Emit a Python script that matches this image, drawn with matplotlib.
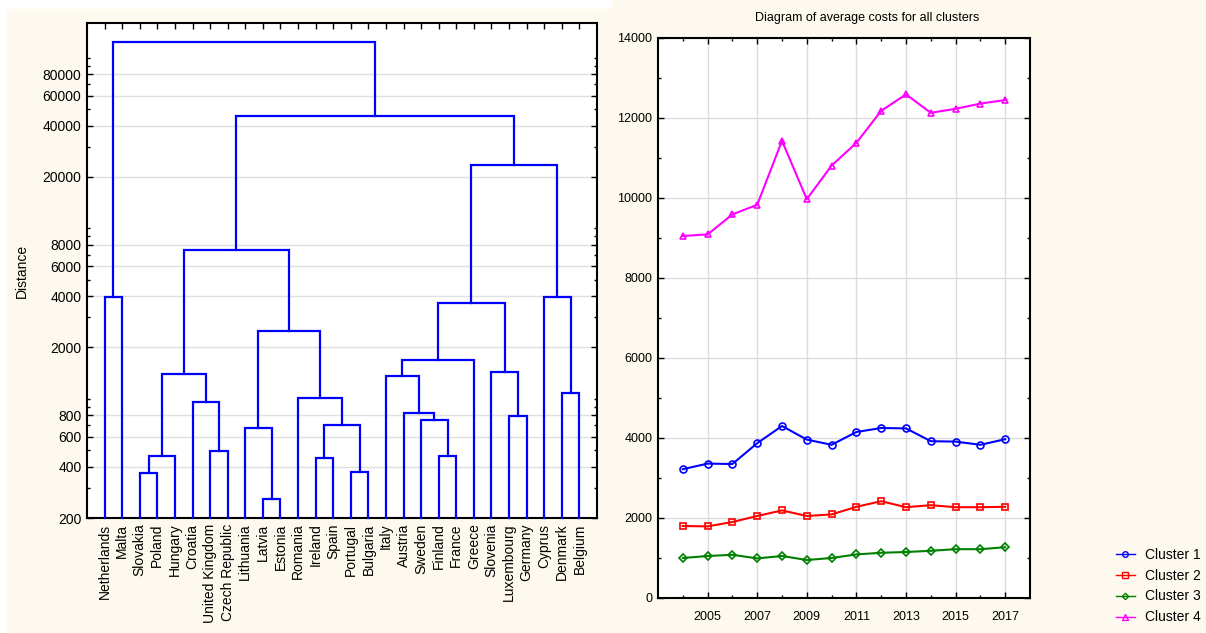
import numpy as np
import matplotlib
matplotlib.use('Agg')
import matplotlib.pyplot as plt
from matplotlib.patches import Rectangle
from matplotlib.lines import Line2D
from matplotlib.ticker import FixedLocator, FixedFormatter, NullFormatter

plt.rcParams['font.family'] = ['Liberation Sans', 'DejaVu Sans']

# ---- dendrogram data (leaf order left to right) ----
COUNTRIES = ['Netherlands', 'Malta', 'Slovakia', 'Poland', 'Hungary', 'Croatia',
             'United Kingdom', 'Czech Republic', 'Lithuania', 'Latvia', 'Estonia',
             'Romania', 'Ireland', 'Spain', 'Portugal', 'Bulgaria', 'Italy',
             'Austria', 'Sweden', 'Finland', 'France', 'Greece', 'Slovenia',
             'Luxembourg', 'Germany', 'Cyprus', 'Denmark', 'Belgium']
# merges: (left node, right node, distance); nodes >= 28 are earlier merges
MERGE_LEFT = [9, 2, 14, 12, 29, 19, 6, 8, 31, 18, 23, 17, 5, 11, 26, 16, 32,
              22, 43, 35, 46, 0, 25, 44, 48, 51, 49]
MERGE_RIGHT = [10, 3, 15, 13, 4, 20, 7, 28, 30, 33, 24, 37, 34, 36, 27, 39, 40,
               38, 21, 41, 45, 1, 42, 47, 50, 52, 53]
MERGE_DIST = [259, 366, 371, 451, 459, 465, 496, 670, 698, 754, 789, 829, 962,
              1016, 1077, 1363, 1393, 1445, 1678, 2494, 3630, 3950, 3955, 7450,
              23540, 45280, 123300]
DIST_TICKS = [200, 400, 600, 800, 2000, 4000, 6000, 8000, 20000, 40000, 60000, 80000]

# ---- average costs per cluster ----
YEARS = list(range(2004, 2018))
CLUSTER1 = [3220, 3360, 3350, 3870, 4300, 3960, 3830, 4150, 4250, 4240, 3920, 3910, 3830, 3970]
CLUSTER2 = [1800, 1790, 1900, 2050, 2190, 2050, 2090, 2280, 2420, 2270, 2320, 2270, 2270, 2280]
CLUSTER3 = [1000, 1050, 1080, 990, 1050, 950, 1000, 1090, 1130, 1150, 1180, 1220, 1220, 1270]
CLUSTER4 = [9050, 9090, 9590, 9830, 11430, 9970, 10810, 11380, 12180, 12590, 12130, 12230, 12360, 12450]

W, H = 1206, 633
fig = plt.figure(figsize=(W / 100, H / 100), dpi=100, facecolor='white')
cream = '#fdf9ee'
fig.patches.append(Rectangle((7 / W, 0), (612 - 7) / W, (H - 9) / H,
                             transform=fig.transFigure, color=cream, zorder=-10))
fig.patches.append(Rectangle((612 / W, 0), (W - 612) / W, 1,
                             transform=fig.transFigure, color=cream, zorder=-10))

# ---------------- left: dendrogram ----------------
ax = fig.add_axes([87 / W, (H - 518) / H, (597 - 87) / W, (518 - 23) / H])
ax.set_yscale('log')
ymin, ymax = 200, 160000
n = len(COUNTRIES)
xpos = {i: i + 1 for i in range(n)}
hgt = {i: ymin for i in range(n)}
for k, (a, b, d) in enumerate(zip(MERGE_LEFT, MERGE_RIGHT, MERGE_DIST)):
    node = n + k
    xa, xb = xpos[a], xpos[b]
    ax.plot([xa, xa, xb, xb], [hgt[a], d, d, hgt[b]], color='#0000ff', lw=1.6,
            solid_joinstyle='miter', clip_on=False, zorder=3)
    xpos[node] = (xa + xb) / 2
    hgt[node] = d

ax.set_xlim(0, n + 1)
ax.set_ylim(ymin, ymax)
ax.set_xticks(range(1, n + 1))
ax.set_xticklabels(COUNTRIES, rotation=90, fontsize=10)
ax.tick_params(axis='x', which='both', bottom=False, top=True, direction='in',
               length=4, width=1, pad=4)
ax.yaxis.set_major_locator(FixedLocator(DIST_TICKS))
ax.yaxis.set_major_formatter(FixedFormatter([str(v) for v in DIST_TICKS]))
ax.yaxis.set_minor_locator(FixedLocator([300, 500, 700, 900, 1000, 3000, 5000, 7000,
                                         9000, 10000, 30000, 50000, 70000, 90000, 100000]))
ax.yaxis.set_minor_formatter(NullFormatter())
ax.tick_params(axis='y', which='both', direction='in', right=True, pad=4, labelsize=10)
ax.tick_params(axis='y', which='major', length=4, width=1)
ax.tick_params(axis='y', which='minor', length=2.5, width=1)
ax.grid(True, axis='y', which='major', color='#e0e0e0', lw=1)
ax.set_axisbelow(True)
ax.set_ylabel('Distance', fontsize=10, labelpad=10)
for s in ax.spines.values():
    s.set_linewidth(1.5)

# ---------------- right: line chart ----------------
ax2 = fig.add_axes([658 / W, (H - 598) / H, (1030 - 658) / W, (598 - 38) / H])
series = [
    (CLUSTER1, 'Cluster 1', '#0000ff', 'o'),
    (CLUSTER2, 'Cluster 2', '#ff0000', 's'),
    (CLUSTER3, 'Cluster 3', '#008000', 'D'),
    (CLUSTER4, 'Cluster 4', '#ff00ff', '^'),
]
handles = []
for vals, lab, col, mk in series:
    ax2.plot(YEARS, vals, color=col, lw=1.5, marker=mk, markersize=5 if mk != 'D' else 4.2,
             markerfacecolor='none', markeredgecolor=col, markeredgewidth=1.2, label=lab)
    handles.append(Line2D([], [], color=col, lw=1, marker=mk,
                          markersize=4 if mk != 'D' else 3.2, markerfacecolor='none',
                          markeredgecolor=col, markeredgewidth=1, label=lab))
ax2.set_xlim(2003, 2018)
ax2.set_ylim(0, 14000)
ax2.set_xticks(range(2005, 2018, 2))
ax2.set_xticks(range(2004, 2018), minor=True)
ax2.set_yticks(range(0, 14001, 2000))
ax2.set_yticks(range(1000, 14000, 2000), minor=True)
ax2.tick_params(axis='both', which='both', direction='in', top=True, right=True, labelsize=9)
ax2.tick_params(axis='both', which='major', length=4, width=1)
ax2.tick_params(axis='both', which='minor', length=2.5, width=1)
ax2.tick_params(axis='x', pad=9)
ax2.tick_params(axis='y', pad=4)
ax2.grid(True, which='major', color='#dcdcdc', lw=1)
ax2.set_axisbelow(True)
for s in ax2.spines.values():
    s.set_linewidth(1.5)
fig.text(867 / W, 1 - 18 / H, 'Diagram of average costs for all clusters',
         fontsize=9, ha='center', va='center')
fig.legend(handles=handles, loc='upper left',
           bbox_to_anchor=(1110 / W, 1 - 542 / H), frameon=False, fontsize=10,
           handlelength=1.4, labelspacing=0.5, handletextpad=0.7, borderaxespad=0)

fig.savefig('out.png', dpi=100, facecolor=fig.get_facecolor())
